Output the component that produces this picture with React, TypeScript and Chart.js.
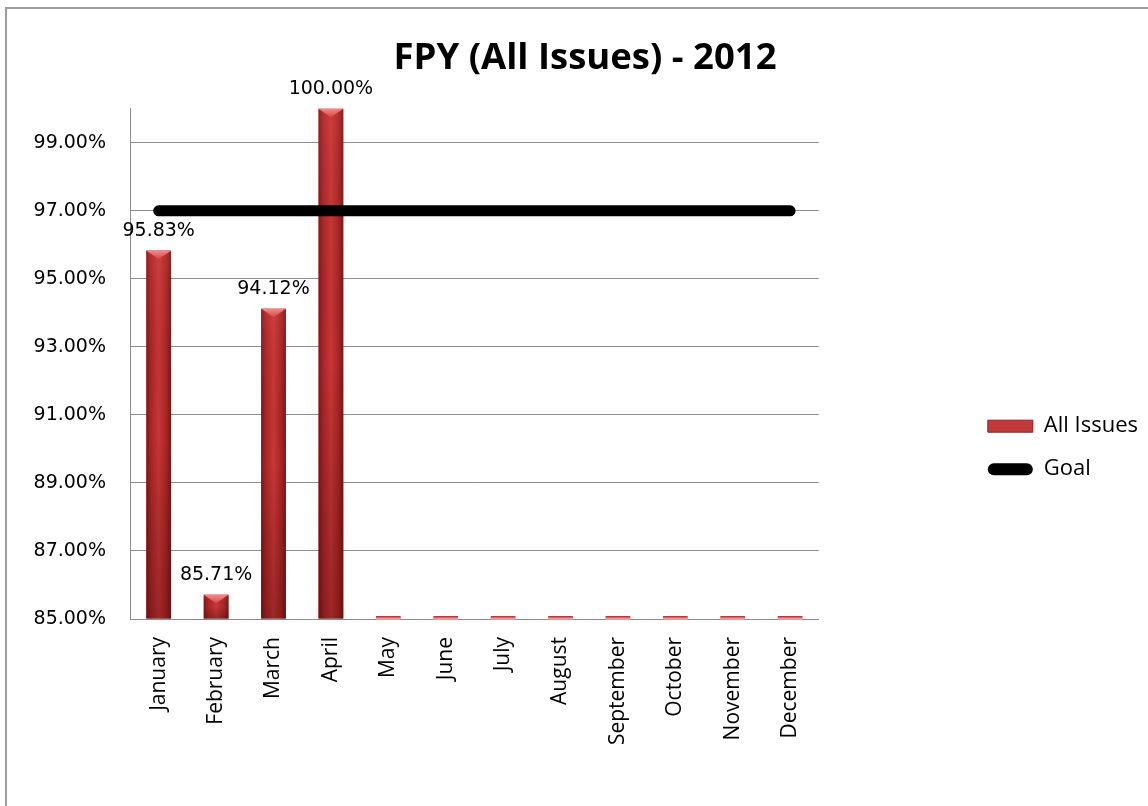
import React, { useEffect, useRef } from "react";
import { Chart, registerables } from "chart.js";

Chart.register(...registerables);

const TITLE = "FPY (All Issues) - 2012";
const MONTHS = [
  "January", "February", "March", "April", "May", "June",
  "July", "August", "September", "October", "November", "December",
];
const ALL_ISSUES = [95.83, 85.71, 94.12, 100.0, 0, 0, 0, 0, 0, 0, 0, 0];
const GOAL = [97, 97, 97, 97, 97, 97, 97, 97, 97, 97, 97, 97];
const Y_MIN = 85;
const Y_MAX = 100;
const Y_TICKS = [85, 87, 89, 91, 93, 95, 97, 99];
const LEGEND_LABELS = ["All Issues", "Goal"];

const pct = (v: number) => v.toFixed(2) + "%";

const barStylePlugin = {
  id: "barStyle",
  afterDatasetDraw(chart: any, args: any) {
    if (args.index !== 0) return;
    const ctx = chart.ctx as CanvasRenderingContext2D;
    ctx.save();
    args.meta.data.forEach((bar: any) => {
      const { x, y, base, width } = bar.getProps(["x", "y", "base", "width"], true);
      const left = x - width / 2;
      const right = x + width / 2;
      const top = Math.min(y, base);
      const bottom = Math.max(y, base);
      const h = bottom - top;
      if (h > 8) {
        const g = ctx.createLinearGradient(left, 0, right, 0);
        g.addColorStop(0, "#7f1818");
        g.addColorStop(0.18, "#a82626");
        g.addColorStop(0.5, "#c93636");
        g.addColorStop(0.82, "#a82424");
        g.addColorStop(1, "#7a1616");
        ctx.fillStyle = g;
        ctx.fillRect(left, top, width, h);
        const v = ctx.createLinearGradient(0, top, 0, bottom);
        v.addColorStop(0, "rgba(255,120,120,0.12)");
        v.addColorStop(0.5, "rgba(0,0,0,0)");
        v.addColorStop(1, "rgba(50,0,0,0.28)");
        ctx.fillStyle = v;
        ctx.fillRect(left, top, width, h);
        const bh = Math.min(width * 0.34, h / 2);
        const b = ctx.createLinearGradient(0, top, 0, top + bh);
        b.addColorStop(0, "#f08a8a");
        b.addColorStop(1, "#d44848");
        ctx.fillStyle = b;
        ctx.beginPath();
        ctx.moveTo(left, top);
        ctx.lineTo(right, top);
        ctx.lineTo(x, top + bh);
        ctx.closePath();
        ctx.fill();
      } else {
        ctx.fillStyle = "#e59a9a";
        ctx.fillRect(left, top + 1.5, width, h);
      }
    });
    ctx.restore();
  },
  afterDatasetsDraw(chart: any) {
    const ctx = chart.ctx as CanvasRenderingContext2D;
    const meta = chart.getDatasetMeta(0);
    ctx.save();
    ctx.font = '19px "DejaVu Sans"';
    ctx.fillStyle = "#000";
    ctx.textAlign = "center";
    ctx.textBaseline = "alphabetic";
    meta.data.forEach((bar: any, i: number) => {
      const v = ALL_ISSUES[i];
      if (v < Y_MIN) return;
      ctx.fillText(pct(v), bar.x, bar.y - 15);
    });
    ctx.restore();
  },
};

export default function App() {
  const ref = useRef<HTMLCanvasElement | null>(null);

  useEffect(() => {
    if (!ref.current) return;
    const barData = ALL_ISSUES.map((v) => (v < Y_MIN ? Y_MIN : v));
    const chart = new Chart(ref.current, {
      type: "bar",
      data: {
        labels: MONTHS,
        datasets: [
          {
            type: "bar",
            label: LEGEND_LABELS[0],
            data: barData,
            base: Y_MIN,
            backgroundColor: "#c03535",
            minBarLength: 3,
            categoryPercentage: 1,
            barPercentage: 0.43,
            order: 1,
          } as any,
          {
            type: "line",
            label: LEGEND_LABELS[1],
            data: GOAL,
            borderColor: "#000",
            borderWidth: 11,
            borderCapStyle: "round",
            pointRadius: 0,
            fill: false,
            tension: 0,
            order: 0,
          } as any,
        ],
      },
      options: {
        responsive: false,
        animation: false,
        devicePixelRatio: 1,
        layout: { padding: { left: 15, right: 0, top: 0, bottom: 0 } },
        scales: {
          x: {
            grid: { display: false },
            border: { display: true, color: "#8c8c8c", width: 1 },
            ticks: {
              autoSkip: false,
              maxRotation: 90,
              minRotation: 90,
              padding: 10,
              color: "#000",
              font: { family: "Open Sans", size: 21 },
            },
            afterFit: (s: any) => {
              s.height = 187;
            },
          },
          y: {
            min: Y_MIN,
            max: Y_MAX,
            afterBuildTicks: (s: any) => {
              s.ticks = Y_TICKS.map((v) => ({ value: v }));
            },
            grid: { color: "#8c8c8c", drawTicks: false },
            border: { display: true, color: "#8c8c8c" },
            ticks: {
              padding: 24,
              color: "#000",
              font: { family: "DejaVu Sans", size: 19 },
              callback: (v: any) => pct(Number(v)),
            },
            afterFit: (s: any) => {
              s.width = 108;
            },
          },
          yPad: {
            type: "linear",
            position: "right",
            display: true,
            grid: { display: false },
            border: { display: false },
            ticks: { display: false },
            afterFit: (s: any) => {
              s.width = 148;
            },
          },
        } as any,
        plugins: {
          tooltip: { enabled: false },
          title: {
            display: true,
            text: TITLE,
            color: "#000",
            font: { family: "Open Sans", size: 36.5, weight: "bold" },
            padding: { top: 28, bottom: 28 },
          },
          legend: {
            position: "right",
            align: "center",
            title: {
              display: true,
              text: " ",
              font: { size: 12 },
              padding: { top: 33, bottom: 33 },
            },
            labels: {
              boxWidth: 45,
              boxHeight: 12,
              padding: 21,
              color: "#000",
              font: { family: "Open Sans", size: 22 },
              generateLabels: () => [
                {
                  text: LEGEND_LABELS[0],
                  fillStyle: "#c43a3a",
                  strokeStyle: "#8e1f1f",
                  lineWidth: 1,
                  hidden: false,
                  datasetIndex: 0,
                  fontColor: "#000",
                },
                {
                  text: LEGEND_LABELS[1],
                  fillStyle: "#000",
                  strokeStyle: "#000",
                  lineWidth: 0,
                  borderRadius: 6,
                  hidden: false,
                  datasetIndex: 1,
                  fontColor: "#000",
                },
              ],
            },
          },
        },
      } as any,
      plugins: [barStylePlugin],
    });
    return () => chart.destroy();
  }, []);

  return (
    <div
      style={{
        position: "absolute",
        left: 5,
        top: 7,
        right: 0,
        bottom: 0,
        borderTop: "2px solid #9c9c9c",
        borderLeft: "2px solid #9c9c9c",
        background: "#fff",
        overflow: "hidden",
      }}
    >
      <canvas ref={ref} width={1141} height={797} style={{ display: "block" }} />
    </div>
  );
}
